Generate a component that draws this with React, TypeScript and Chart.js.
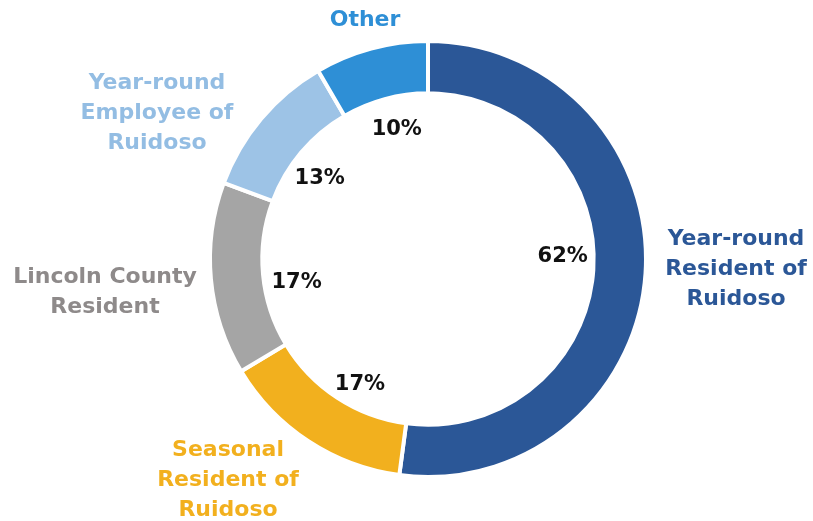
import React, { useEffect, useRef } from "react";
import { Chart, registerables } from "chart.js";

Chart.register(...registerables);

const categories = [
  ["Year-round", "Resident of", "Ruidoso"],
  ["Seasonal", "Resident of", "Ruidoso"],
  ["Lincoln County", "Resident"],
  ["Year-round", "Employee of", "Ruidoso"],
  ["Other"],
];
const values = [62, 17, 17, 13, 10];
const valueLabels = ["62%", "17%", "17%", "13%", "10%"];

const sliceColors = ["#2B5797", "#F2B01E", "#A5A5A5", "#9DC3E6", "#2E8FD6"];
const textColors = ["#2B5797", "#F2B01E", "#8E8A8A", "#93BDE3", "#2E8FD6"];

// label layout (offsets relative to chart centre, in px)
const outerLabelOffsets = [
  [308, 10],
  [-200, 221],
  [-323, 33],
  [-271, -146],
  [-63, -239],
];
const pctRadius = 135;
const pctTweaks = [
  [0, -11],
  [6, 13],
  [3, 11],
  [-5, 6],
  [4, 1],
];

const FONT = '"DejaVu Sans", sans-serif';

const labelPlugin = {
  id: "labelPlugin",
  afterDatasetsDraw(chart: any) {
    const ctx = chart.ctx;
    const meta = chart.getDatasetMeta(0);
    ctx.save();
    ctx.textAlign = "center";
    ctx.textBaseline = "middle";
    meta.data.forEach((el: any, i: number) => {
      const p = el.getProps(["x", "y", "startAngle", "endAngle"], true);
      const mid = (p.startAngle + p.endAngle) / 2;
      const px = p.x + Math.cos(mid) * pctRadius + pctTweaks[i][0];
      const py = p.y + Math.sin(mid) * pctRadius + pctTweaks[i][1];
      ctx.fillStyle = "#111111";
      ctx.font = `bold 21px ${FONT}`;
      ctx.fillText(valueLabels[i], px, py);

      const lines = categories[i];
      const lh = 30;
      const cx = p.x + outerLabelOffsets[i][0];
      const cy = p.y + outerLabelOffsets[i][1];
      ctx.fillStyle = textColors[i];
      ctx.font = `bold 22px ${FONT}`;
      lines.forEach((ln, j) => {
        const yy = cy + (j - (lines.length - 1) / 2) * lh;
        ctx.fillText(ln, cx, yy);
      });
    });
    ctx.restore();
  },
};

export default function App() {
  const ref = useRef<HTMLCanvasElement | null>(null);
  useEffect(() => {
    if (!ref.current) return;
    const chart = new Chart(ref.current, {
      type: "doughnut",
      data: {
        labels: categories.map((c) => c.join(" ")),
        datasets: [
          {
            data: values,
            backgroundColor: sliceColors,
            borderColor: "#ffffff",
            borderWidth: 4,
          },
        ],
      },
      options: {
        animation: false,
        responsive: true,
        maintainAspectRatio: false,
        cutout: "76%",
        layout: { padding: { left: 208, top: 39, right: 165, bottom: 42 } },
        plugins: {
          legend: { display: false },
          tooltip: { enabled: false },
        },
      },
      plugins: [labelPlugin],
    });
    return () => chart.destroy();
  }, []);
  return (
    <div
      style={{
        position: "absolute",
        left: 0,
        top: 0,
        width: 813,
        height: 521,
        background: "#ffffff",
      }}
    >
      <canvas ref={ref} />
    </div>
  );
}
